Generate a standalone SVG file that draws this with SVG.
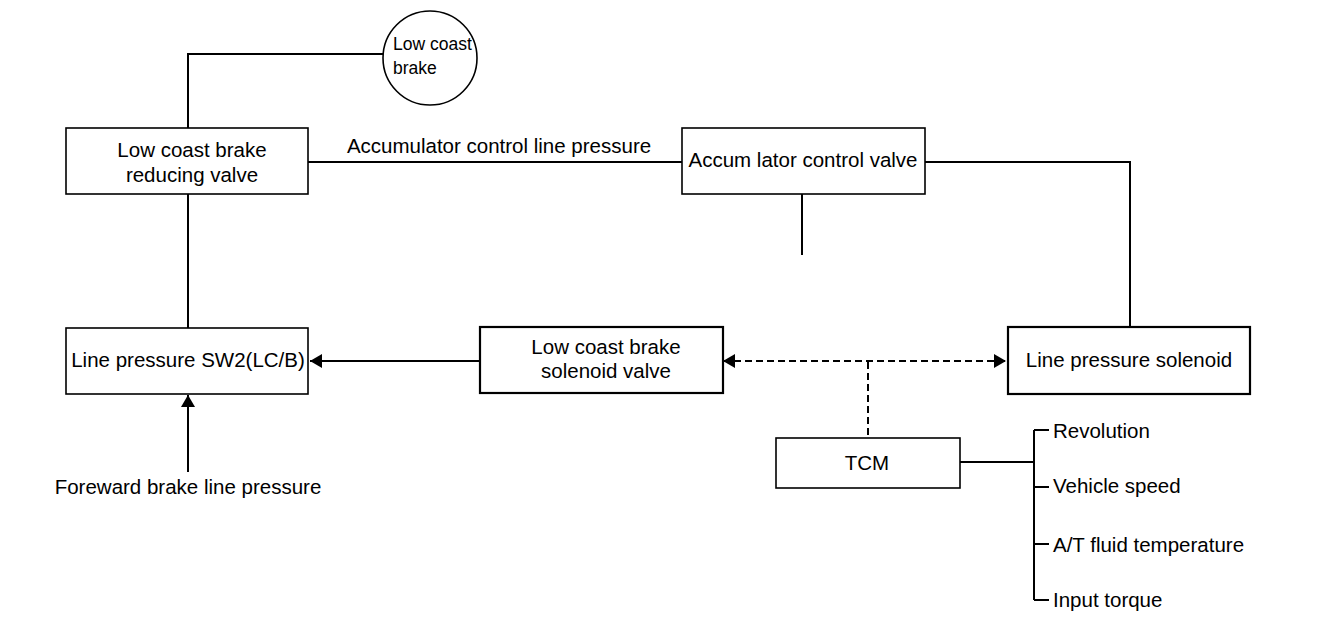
<svg xmlns="http://www.w3.org/2000/svg" width="1344" height="636" viewBox="0 0 1344 636">
<style>
  .box { fill: #fff; stroke: #000; stroke-width: 1.6; }
  .boxb { fill: #fff; stroke: #000; stroke-width: 2.2; }
  .ln { fill: none; stroke: #000; stroke-width: 2; }
  .dash { fill: none; stroke: #000; stroke-width: 2; stroke-dasharray: 7 4; }
  .t { font-family: "Liberation Sans", Arial, sans-serif; font-size: 20.5px; fill: #000; }
  .c { text-anchor: middle; }
  .s { font-size: 17.5px; }
</style>
<defs>
  <marker id="arr" markerUnits="userSpaceOnUse" markerWidth="13" markerHeight="14" refX="12" refY="7" orient="auto-start-reverse">
    <path d="M0,0 L12,7 L0,14 z" fill="#000"/>
  </marker>
</defs>
<rect width="1344" height="636" fill="#fff"/>

<g id="connectors">
  <polyline class="ln" points="383,54 188,54 188,128"/>
  <line class="ln" x1="188" y1="194" x2="188" y2="328"/>
  <line class="ln" x1="308" y1="162" x2="682" y2="162"/>
  <polyline class="ln" points="925,162 1130,162 1130,327"/>
  <line class="ln" x1="802" y1="194" x2="802" y2="255"/>
  <line class="ln" x1="188" y1="472" x2="188" y2="395" marker-end="url(#arr)"/>
  <line class="ln" x1="480" y1="361" x2="310" y2="361" marker-end="url(#arr)"/>
  <line class="dash" x1="723" y1="361" x2="1006" y2="361" marker-start="url(#arr)" marker-end="url(#arr)"/>
  <line class="dash" x1="868" y1="362" x2="868" y2="438"/>
  <line class="ln" x1="960" y1="462" x2="1034" y2="462"/>
  <line class="ln" x1="1034" y1="430" x2="1034" y2="600"/>
  <line class="ln" x1="1034" y1="430" x2="1049" y2="430"/>
  <line class="ln" x1="1034" y1="487" x2="1049" y2="487"/>
  <line class="ln" x1="1034" y1="544" x2="1049" y2="544"/>
  <line class="ln" x1="1034" y1="600" x2="1049" y2="600"/>
  <text class="t c" x="499" y="153">Accumulator control line pressure</text>
  <text class="t c" x="188" y="494">Foreward brake line pressure</text>
  <text class="t" x="1053" y="438">Revolution</text>
  <text class="t" x="1053" y="493">Vehicle speed</text>
  <text class="t" x="1053" y="552">A/T fluid temperature</text>
  <text class="t" x="1053" y="607">Input torque</text>
</g>

<g id="low-coast-brake">
  <circle cx="430" cy="58" r="47" fill="#fff" stroke="#000" stroke-width="1.6"/>
  <text class="t s" x="393" y="50">Low coast</text>
  <text class="t s" x="393" y="74">brake</text>
</g>

<g id="reducing-valve">
  <rect class="box" x="66" y="128" width="242" height="66"/>
  <text class="t c" x="192" y="157">Low coast brake</text>
  <text class="t c" x="192" y="182">reducing valve</text>
</g>

<g id="accumulator-control-valve">
  <rect class="box" x="682" y="128" width="243" height="66"/>
  <text class="t c" x="803" y="167">Accum lator control valve</text>
</g>

<g id="line-pressure-sw2">
  <rect class="box" x="66" y="328" width="242" height="66"/>
  <text class="t c" x="188" y="367">Line pressure SW2(LC/B)</text>
</g>

<g id="solenoid-valve">
  <rect class="boxb" x="480" y="327" width="243" height="66"/>
  <text class="t c" x="606" y="354">Low coast brake</text>
  <text class="t c" x="606" y="378">solenoid valve</text>
</g>

<g id="line-pressure-solenoid">
  <rect class="boxb" x="1008" y="327" width="242" height="67"/>
  <text class="t c" x="1129" y="367">Line pressure solenoid</text>
</g>

<g id="tcm">
  <rect class="box" x="776" y="438" width="184" height="50"/>
  <text class="t c" x="867" y="470">TCM</text>
</g>
</svg>
